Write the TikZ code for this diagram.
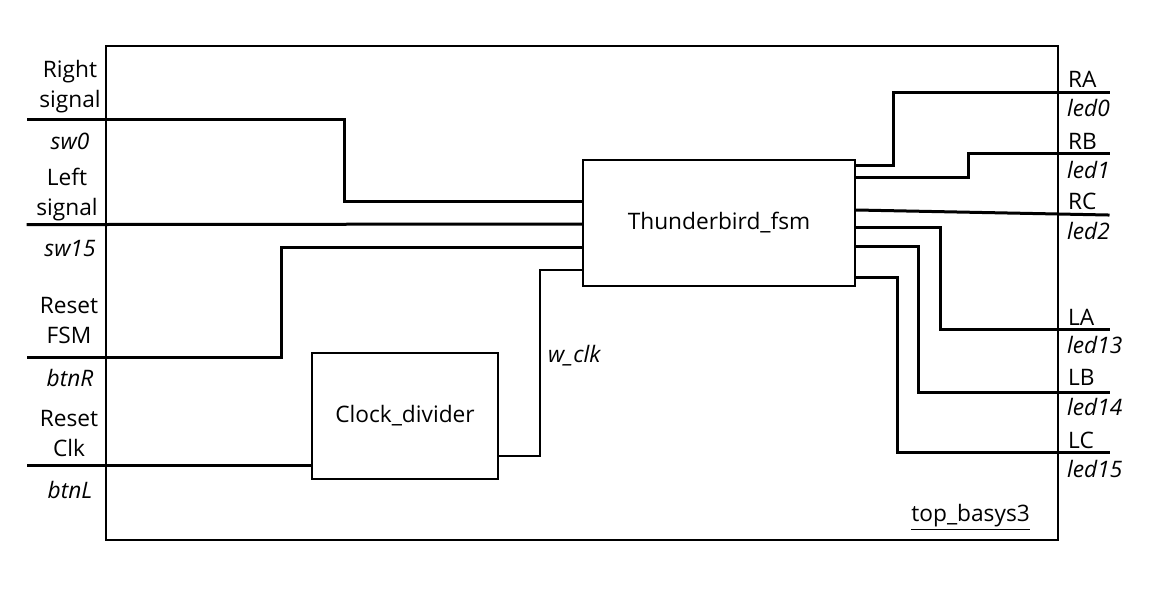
\documentclass[tikz,border=0pt]{standalone}
\usepackage{fontspec}
\setmainfont{Open Sans}
\begin{document}
\begin{tikzpicture}[x=1pt,y=-1pt,
  wire/.style={line width=3pt,line cap=rect},
  blockbox/.style={draw,line width=2pt,inner sep=0pt,font=\fontsize{22.7}{30}\selectfont},
  lbl/.style={inner sep=0pt,align=center,font=\fontsize{22.7}{30}\selectfont},
  pin/.style={inner sep=0pt,anchor=west,font=\fontsize{22.7}{30}\selectfont},
  pinit/.style={inner sep=0pt,anchor=west,font=\fontsize{22.7}{30}\selectfont\itshape}]
\fill[white] (0,0) rectangle (1165,589);
\useasboundingbox (0,0) rectangle (1165,589);
% outer box
\node[draw,line width=2pt,minimum width=952pt,minimum height=494pt,inner sep=0pt] (top) at (582,293) {};
\node[lbl,anchor=east] (topname) at (1030,517) {\underline{top\_basys3}};
% blocks
\node[blockbox,minimum width=272pt,minimum height=126pt] (TB) at (719,223) {Thunderbird\_fsm};
\node[blockbox,minimum width=186pt,minimum height=126pt] (CD) at (405,416) {Clock\_divider};
% left labels
\node[lbl] (lr) at (70,87) {Right\\signal};
\node[lbl,font=\fontsize{22.7}{30}\selectfont\itshape] (lsw0) at (70,141) {sw0};
\node[lbl] (ll) at (67,195) {Left\\signal};
\node[lbl,font=\fontsize{22.7}{30}\selectfont\itshape] (lsw15) at (70,249) {sw15};
\node[lbl] (lrf) at (69,321) {Reset\\FSM};
\node[lbl,font=\fontsize{22.7}{30}\selectfont\itshape] (lbtnr) at (70,378) {btnR};
\node[lbl] (lrc) at (69,434) {Reset\\Clk};
\node[lbl,font=\fontsize{22.7}{30}\selectfont\itshape] (lbtnl) at (70,490) {btnL};
\node[lbl,font=\fontsize{22.7}{30}\selectfont\itshape,anchor=west] (wclk) at (548,356) {w\_clk};
% left wire ends
\coordinate (i0) at (28,119);
\coordinate (i1) at (28,224.5);
\coordinate (i2) at (28,357);
\coordinate (i3) at (28,465);
\draw[wire] (i0) -- (344,119) |- (TB.west |- 0,201);
\draw[wire] (i1) -- (106,224.5) -- (TB.west |- 0,224);
\draw[wire] (i2) -- (281,357) |- (TB.west |- 0,247);
\draw[wire] (i3) -- (CD.west |- 0,465);
\draw[wire,line width=2.5pt] (CD.east |- 0,456) -| (540,270) -- (TB.west |- 0,270);
% right wire ends
\coordinate (oRA) at (1108,92);
\coordinate (oRB) at (1108,153);
\coordinate (oRC) at (1108,215);
\coordinate (oLA) at (1108,329);
\coordinate (oLB) at (1108,392);
\coordinate (oLC) at (1108,452);
\draw[wire] (TB.east |- 0,165) -| (893,92) -- (oRA);
\draw[wire] (TB.east |- 0,177) -| (968,153) -- (oRB);
\draw[wire] (TB.east |- 0,210) -- (1058,214) -- (oRC);
\draw[wire] (TB.east |- 0,227) -| (940,329) -- (oLA);
\draw[wire] (TB.east |- 0,246) -| (918,392) -- (oLB);
\draw[wire] (TB.east |- 0,277) -| (897,452) -- (oLC);
% right labels
\node[pin] (tRA) at (1068,79) {RA};
\node[pinit] (tled0) at (1067,108) {led0};
\node[pin] (tRB) at (1068,141) {RB};
\node[pinit] (tled1) at (1067,170) {led1};
\node[pin] (tRC) at (1068,201) {RC};
\node[pinit] (tled2) at (1067,231) {led2};
\node[pin] (tLA) at (1068,317) {LA};
\node[pinit] (tled13) at (1067,345) {led13};
\node[pin] (tLB) at (1068,377) {LB};
\node[pinit] (tled14) at (1067,407) {led14};
\node[pin] (tLC) at (1068,440) {LC};
\node[pinit] (tled15) at (1067,469) {led15};
\end{tikzpicture}
\end{document}
